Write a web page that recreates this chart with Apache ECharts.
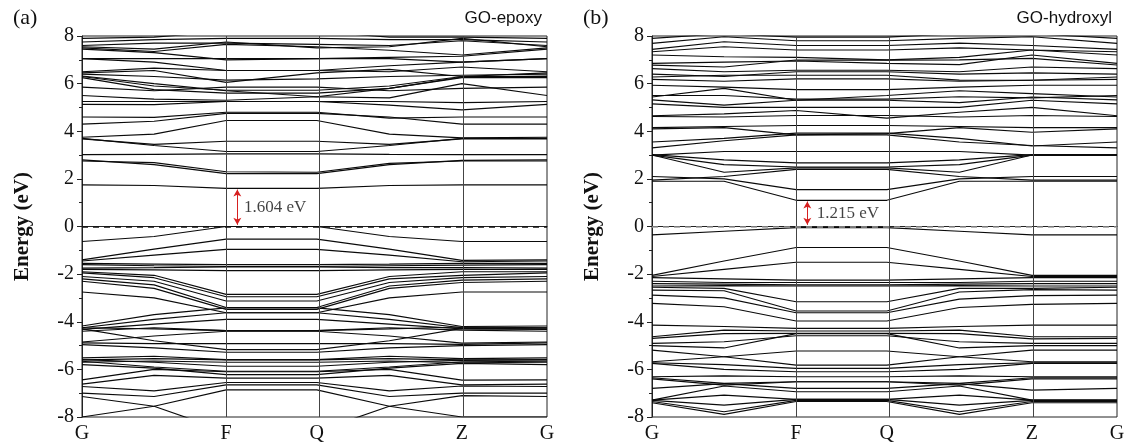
<!DOCTYPE html>
<html><head><meta charset="utf-8">
<script src="https://cdn.jsdelivr.net/npm/echarts@6/dist/echarts.min.js"></script>
<style>html,body{margin:0;padding:0;background:#fff}#c{width:1129px;height:445px}</style>
</head><body><div id="c"></div>
<script>
// k-path positions: G, mid(G-F), F, Q, mid(Q-Z), Z, G
const kPos = [0, 0.155, 0.31, 0.505, 0.661, 0.817, 1];
const kTicks = [0, 0.31, 0.505, 0.817, 1];
const kLabels = ['G', 'F', 'Q', 'Z', 'G'];
const yTicks = [-8, -6, -4, -2, 0, 2, 4, 6, 8];
const panelTitles = ['GO-epoxy', 'GO-hydroxyl'];
const panelTags = ['(a)', '(b)'];
const gapLabels = ['1.604 eV', '1.215 eV'];
const gapCBM = [1.55, 1.05];
const gapVBM = [0.07, 0.07];

// band energies (eV) at G, mid, F, Q, mid, Z  (last G repeats first)
const epoxyConduction = [
  [1.75, 1.72, 1.6, 1.6, 1.72, 1.75],
  [2.8, 2.6, 2.22, 2.22, 2.6, 2.78],
  [2.75, 2.68, 2.3, 2.28, 2.65, 2.75],
  [3.02, 3.03, 3.05, 3.05, 3.03, 3.02],
  [3.7, 3.4, 3.15, 3.15, 3.4, 3.7],
  [3.75, 3.88, 4.45, 4.45, 3.88, 3.72],
  [3.68, 3.45, 3.58, 3.58, 3.45, 3.68],
  [4.3, 4.42, 4.75, 4.75, 4.6, 4.3],
  [4.6, 4.58, 4.8, 4.8, 4.55, 4.6],
  [5.13, 5.12, 5.25, 5.25, 5.1, 4.9],
  [5.5, 5.35, 5.3, 5.45, 5.4, 6.0],
  [5.25, 5.25, 5.25, 5.25, 5.25, 5.2],
  [6.25, 5.75, 5.6, 5.6, 5.8, 6.25],
  [6.3, 5.9, 5.72, 5.72, 5.9, 6.3],
  [6.32, 6.0, 5.7, 5.45, 5.8, 6.28],
  [6.45, 6.55, 6.05, 6.45, 6.6, 6.3],
  [6.5, 6.65, 6.55, 6.55, 6.5, 6.7],
  [7.05, 6.9, 6.55, 6.55, 6.75, 6.9],
  [7.05, 7.05, 7.05, 7.05, 7.05, 6.9],
  [7.45, 7.3, 7.0, 7.05, 7.1, 7.15],
  [7.5, 7.35, 7.65, 7.55, 7.4, 7.2],
  [7.6, 7.7, 7.7, 7.65, 7.6, 7.8],
  [7.75, 7.85, 7.9, 7.9, 7.85, 7.85],
  [7.9, 7.95, 8.2, 8.2, 7.95, 7.95],
  [7.55, 7.45, 7.75, 7.5, 7.55, 7.9],
  [6.4, 6.3, 6.15, 6.2, 6.3, 6.35],
  [5.85, 5.7, 5.85, 5.85, 5.7, 5.8]
];
const epoxyValence = [
  [-0.63, -0.42, 0, 0, -0.42, -0.63],
  [-1.4, -0.95, -0.53, -0.53, -0.95, -1.42],
  [-1.45, -1.2, -0.96, -0.96, -1.2, -1.48],
  [-1.55, -1.58, -1.6, -1.6, -1.58, -1.55],
  [-1.6, -1.65, -1.68, -1.68, -1.65, -1.62],
  [-1.75, -1.73, -1.7, -1.7, -1.73, -1.72],
  [-1.8, -1.82, -1.85, -1.85, -1.82, -1.8],
  [-1.9, -2.05, -2.85, -2.85, -2.1, -1.9],
  [-1.95, -2.15, -2.95, -2.95, -2.2, -2.05],
  [-2.1, -2.3, -3.13, -3.13, -2.35, -2.15],
  [-2.2, -2.45, -3.4, -3.4, -2.5, -2.25],
  [-2.3, -2.6, -3.48, -3.48, -2.6, -2.35],
  [-2.75, -3.0, -3.62, -3.62, -3.0, -2.75],
  [-4.18, -3.7, -3.42, -3.42, -3.7, -4.2],
  [-4.25, -3.9, -3.62, -3.62, -3.9, -4.25],
  [-4.32, -4.1, -3.9, -3.9, -4.1, -4.3],
  [-4.4, -4.25, -4.37, -4.37, -4.25, -4.35],
  [-4.3, -4.8, -5.17, -5.17, -4.8, -4.28],
  [-4.85, -4.6, -4.4, -4.4, -4.6, -4.9],
  [-4.89, -4.92, -4.92, -4.92, -4.92, -4.95],
  [-4.96, -5.1, -5.28, -5.28, -5.1, -5.0],
  [-5.52, -5.45, -5.59, -5.59, -5.45, -5.55],
  [-5.59, -5.7, -5.87, -5.87, -5.7, -5.62],
  [-5.66, -5.9, -6.08, -6.08, -5.9, -5.68],
  [-5.8, -5.95, -6.22, -6.22, -5.95, -5.75],
  [-6.44, -6.0, -6.1, -6.1, -6.0, -6.45],
  [-6.62, -6.25, -6.37, -6.37, -6.25, -6.65],
  [-6.72, -6.9, -6.55, -6.55, -6.9, -6.7],
  [-7.0, -7.14, -6.65, -6.65, -7.14, -7.0],
  [-8.0, -7.55, -6.86, -6.86, -7.55, -8.0],
  [-7.14, -7.55, -8.6, -8.6, -7.55, -7.1],
  [-5.6, -5.55, -5.6, -5.6, -5.55, -5.6],
  [-5.7, -5.65, -5.7, -5.7, -5.65, -5.72],
  [-4.25, -4.3, -4.37, -4.37, -4.3, -4.22]
];
const hydroxylConduction = [
  [1.9, 1.9, 1.1, 1.1, 1.9, 1.9],
  [2.1, 2.0, 1.55, 1.55, 2.0, 2.1],
  [1.95, 2.1, 2.4, 2.4, 2.1, 1.95],
  [3.0, 2.28, 2.46, 2.46, 2.28, 3.0],
  [3.0, 2.6, 2.5, 2.5, 2.6, 3.0],
  [3.02, 2.8, 2.67, 2.67, 2.8, 3.02],
  [3.0, 3.15, 3.15, 3.15, 3.15, 3.0],
  [3.3, 3.6, 3.85, 3.85, 3.55, 3.4],
  [3.55, 3.7, 3.92, 3.92, 3.7, 3.38],
  [4.1, 4.15, 3.85, 3.9, 4.15, 3.96],
  [4.15, 4.2, 4.24, 4.24, 4.2, 4.15],
  [4.62, 4.6, 4.66, 4.66, 4.6, 4.66],
  [4.65, 4.73, 4.87, 4.55, 4.8, 5.0],
  [5.15, 5.0, 5.0, 5.0, 5.0, 5.3],
  [5.32, 5.1, 5.3, 5.3, 5.2, 5.44],
  [5.44, 5.8, 5.3, 5.5, 5.7, 5.58],
  [5.5, 5.5, 5.35, 5.35, 5.45, 5.4],
  [5.93, 5.85, 5.75, 5.75, 5.85, 5.93],
  [6.18, 6.1, 6.2, 6.2, 6.1, 6.14],
  [6.28, 6.35, 6.35, 6.35, 6.15, 6.14],
  [6.63, 6.5, 6.56, 6.56, 6.5, 6.7],
  [6.78, 6.7, 6.99, 6.99, 7.0, 7.06],
  [6.85, 6.9, 6.95, 6.85, 6.8, 7.2],
  [7.2, 7.13, 7.1, 7.0, 7.1, 7.41],
  [7.34, 7.55, 7.41, 7.41, 7.5, 7.41],
  [7.44, 7.76, 7.6, 7.6, 7.7, 7.6],
  [7.69, 7.97, 7.8, 7.8, 7.9, 7.97],
  [7.9, 8.1, 7.95, 7.95, 8.1, 8.1],
  [6.4, 6.3, 6.5, 6.5, 6.4, 6.45]
];
const hydroxylValence = [
  [-0.35, -0.2, -0.05, -0.05, -0.2, -0.35],
  [-2.05, -1.45, -0.88, -0.88, -1.45, -2.05],
  [-2.1, -1.8, -1.5, -1.5, -1.8, -2.1],
  [-2.15, -2.2, -2.25, -2.25, -2.2, -2.15],
  [-2.3, -2.35, -2.35, -2.35, -2.35, -2.3],
  [-2.4, -2.42, -2.45, -2.45, -2.42, -2.4],
  [-2.5, -2.48, -2.5, -2.5, -2.48, -2.5],
  [-2.55, -2.6, -3.16, -3.16, -2.6, -2.6],
  [-2.67, -2.7, -3.55, -3.55, -2.75, -2.65],
  [-2.88, -3.0, -3.62, -3.62, -3.05, -2.9],
  [-3.23, -3.37, -3.97, -3.97, -3.4, -3.27],
  [-4.14, -4.2, -4.28, -4.28, -4.2, -4.14],
  [-4.63, -4.35, -4.39, -4.39, -4.35, -4.63],
  [-4.7, -4.5, -4.49, -4.49, -4.5, -4.72],
  [-4.91, -4.84, -4.59, -4.59, -4.84, -4.91],
  [-5.0, -5.1, -4.5, -4.5, -5.1, -5.0],
  [-5.19, -5.47, -5.82, -5.82, -5.47, -5.19],
  [-5.68, -5.47, -5.23, -5.23, -5.47, -5.68],
  [-5.72, -5.8, -5.96, -5.96, -5.8, -5.72],
  [-5.75, -6.0, -6.1, -6.1, -6.0, -5.75],
  [-6.31, -6.27, -6.31, -6.31, -6.27, -6.31],
  [-6.35, -6.59, -6.52, -6.52, -6.59, -6.35],
  [-6.4, -6.66, -6.52, -6.52, -6.66, -6.4],
  [-6.8, -6.6, -6.8, -6.8, -6.6, -6.87],
  [-7.29, -6.7, -6.94, -6.94, -6.7, -7.29],
  [-7.29, -7.08, -7.26, -7.26, -7.08, -7.29],
  [-7.3, -7.5, -7.26, -7.26, -7.5, -7.3],
  [-7.35, -7.78, -7.3, -7.3, -7.78, -7.35],
  [-7.4, -7.89, -7.35, -7.35, -7.89, -7.4]
];

const panels = [
  epoxyValence.concat(epoxyConduction),
  hydroxylValence.concat(hydroxylConduction)
];

const serif = '"Liberation Serif", "Times New Roman", serif';
const sans = '"Liberation Sans", Arial, sans-serif';
const grids = [
  { left: 82, right: 582, top: 36, bottom: 28 },
  { left: 652, right: 12, top: 36, bottom: 28 }
];

const xAxes = [], yAxes = [], series = [], titles = [];
grids.forEach((g, i) => {
  g.show = true; g.borderColor = '#222'; g.borderWidth = 1; g.containLabel = false;
  xAxes.push({
    gridIndex: i, type: 'value', min: 0, max: 1,
    axisLine: { show: true, lineStyle: { color: '#222', width: 1 } },
    axisTick: { show: false },
    splitLine: { show: false },
    axisLabel: {
      customValues: kTicks, margin: 7,
      formatter: v => { const j = kTicks.findIndex(t => Math.abs(t - v) < 1e-6); return j >= 0 ? kLabels[j] : ''; },
      fontFamily: serif, fontSize: 20, color: '#111'
    }
  });
  yAxes.push({
    gridIndex: i, type: 'value', min: -8, max: 8, interval: 2,
    name: 'Energy (eV)', nameLocation: 'middle', nameGap: 49,
    nameTextStyle: { fontFamily: serif, fontSize: 21, fontWeight: 'bold', color: '#111' },
    axisLine: { show: true, lineStyle: { color: '#222', width: 1 } },
    axisTick: { show: true, inside: false, length: 5, lineStyle: { color: '#222' } },
    minorTick: { show: true, splitNumber: 2, length: 3, lineStyle: { color: '#222' } },
    splitLine: { show: false },
    axisLabel: { margin: 8, fontFamily: serif, fontSize: 20, color: '#111' }
  });
  titles.push({ text: panelTags[i], left: i === 0 ? 8 : 578, top: 2,
    textStyle: { fontFamily: serif, fontSize: 22, fontWeight: 'normal', color: '#111' } });
  titles.push({ text: panelTitles[i], right: i === 0 ? 582 : 12, top: 5,
    textStyle: { fontFamily: sans, fontSize: 17, fontWeight: 'normal', color: '#111' } });

  panels[i].forEach((band, b) => {
    const vals = band.concat([band[0]]);
    const s = {
      type: 'line', xAxisIndex: i, yAxisIndex: i, silent: true, animation: false,
      showSymbol: false, symbol: 'none', clip: true, z: 2,
      lineStyle: { color: '#0a0a0a', width: 1.15 },
      data: vals.map((e, j) => [kPos[j], e])
    };
    if (b === 0) {
      s.markLine = {
        silent: true, symbol: 'none', animation: false,
        label: { show: false },
        data: [
          { xAxis: kTicks[1], lineStyle: { color: '#444', width: 1, type: 'solid' } },
          { xAxis: kTicks[2], lineStyle: { color: '#444', width: 1, type: 'solid' } },
          { xAxis: kTicks[3], lineStyle: { color: '#444', width: 1, type: 'solid' } },
          { yAxis: 0, lineStyle: { color: i === 0 ? '#111' : '#9a9a9a', width: 1.5, type: [6, 5] } }
        ]
      };
    }
    series.push(s);
  });

  // band-gap arrow and label
  series.push({
    type: 'line', xAxisIndex: i, yAxisIndex: i, silent: true, animation: false,
    showSymbol: false, data: [], z: 5,
    markLine: {
      silent: true, animation: false, symbol: ['arrow', 'arrow'], symbolSize: [6, 7],
      label: { show: false },
      lineStyle: { color: '#d62020', width: 1, type: 'solid' },
      data: [[{ coord: [kTicks[1] + 0.024, gapVBM[i]] }, { coord: [kTicks[1] + 0.024, gapCBM[i]] }]]
    }
  });
  series.push({
    type: 'scatter', xAxisIndex: i, yAxisIndex: i, silent: true, animation: false,
    symbolSize: 0, z: 6,
    data: [[kTicks[1] + (i === 0 ? 0.034 : 0.04), (gapCBM[i] + gapVBM[i]) / 2]],
    label: { show: true, position: 'right', distance: 2, formatter: gapLabels[i],
      fontFamily: serif, fontSize: 17, color: '#111' }
  });
});

const chart = echarts.init(document.getElementById('c'), null, { renderer: 'canvas' });
chart.setOption({
  backgroundColor: '#fff', animation: false,
  title: titles, grid: grids, xAxis: xAxes, yAxis: yAxes, series: series
});
</script></body></html>
